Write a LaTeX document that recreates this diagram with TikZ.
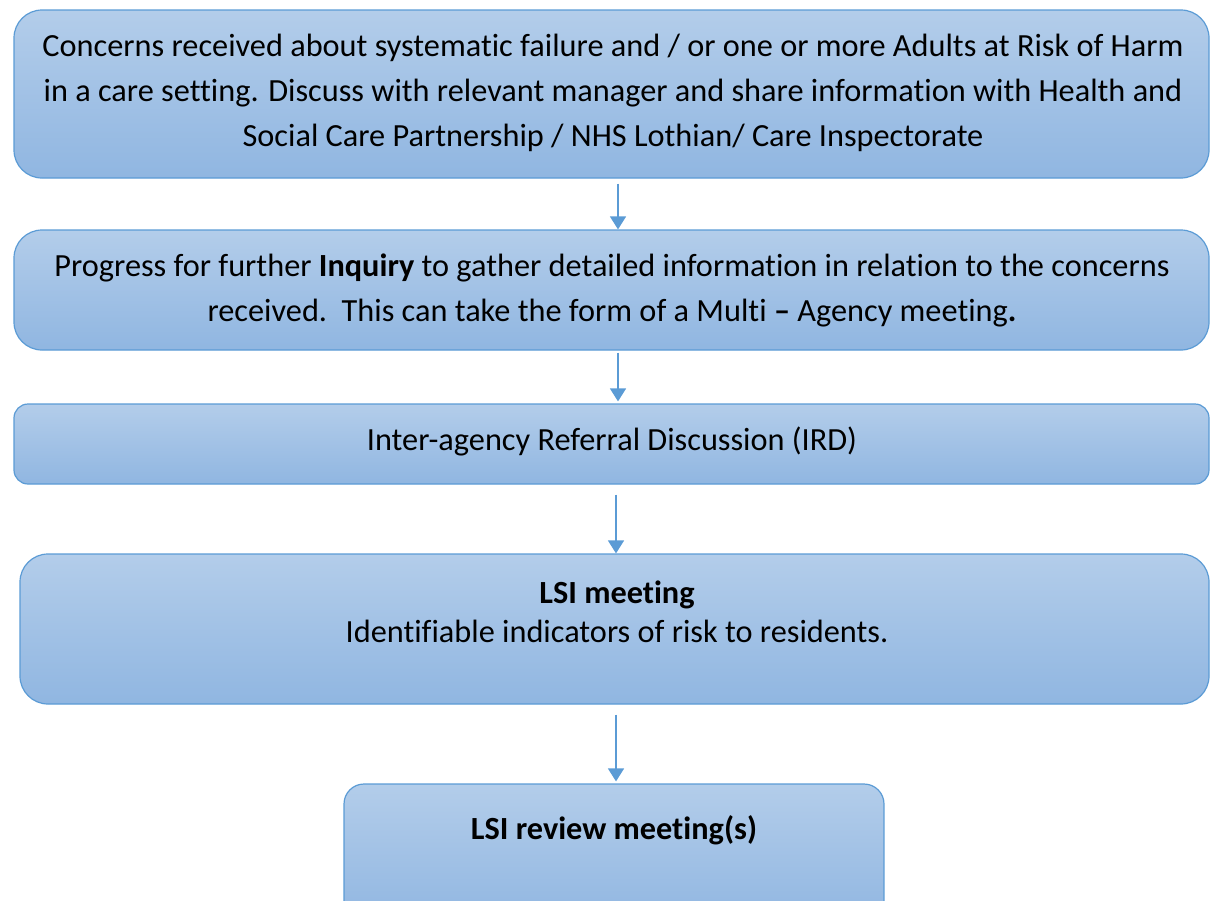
\documentclass[tikz,border=0pt]{standalone}
\usepackage{fontspec}
\setmainfont[Ligatures=NoCommon]{Carlito}
\usetikzlibrary{arrows.meta}

\definecolor{boxtop}{HTML}{B3CDEA}
\definecolor{boxbot}{HTML}{90B6E1}
\definecolor{boxline}{HTML}{5B9BD5}

\begin{document}
\begin{tikzpicture}[x=1pt,y=-1pt,
    stage/.style={draw=boxline, line width=1.2pt, top color=boxtop, bottom color=boxbot,
      inner sep=0pt, rounded corners=#1},
    stage/.default=28pt,
    words/.style={align=center, inner sep=0pt, font=\fontsize{32.3}{45}\selectfont},
    flow/.style={draw=boxline, line width=1.5pt, -{Triangle[width=16pt,length=13pt]}}]
    \useasboundingbox (0,0) rectangle (1210,900);
    \clip (0,0) rectangle (1210,900);

    % boxes
    \node[stage, minimum width=1195pt, minimum height=168pt] (concerns) at (611.5,94) {};
    \node[stage, minimum width=1195pt, minimum height=120pt] (inquiry) at (611.5,290) {};
    \node[stage=14pt, minimum width=1195pt, minimum height=80pt] (ird) at (611.5,444) {};
    \node[stage, minimum width=1189pt, minimum height=150pt] (lsi) at (614.5,629) {};
    \node[stage=20pt, minimum width=540pt, minimum height=140pt] (review) at (614,854) {};

    % texts
    \node[words] (concernstxt) at (613,93) {Concerns received about systematic failure and / or one or more Adults at Risk of Harm\\
      in a care setting. Discuss with relevant manager and share information with Health and\\
      Social Care Partnership / NHS Lothian/ Care Inspectorate};
    \node[words] (inquirytxt) at (612,290) {Progress for further \textbf{Inquiry} to gather detailed information in relation to the concerns\\
      received.\ \ This can take the form of a Multi \textbf{--} Agency meeting\textbf{.}};
    \node[words] (irdtxt) at (612,441) {Inter-agency Referral Discussion (IRD)};
    \node[words] (lsitxt) at (617,612) {\textbf{LSI meeting}\\[-6pt]Identifiable indicators of risk to residents.};
    \node[words] (reviewtxt) at (614,830) {\textbf{LSI review meeting(s)}};

    % arrows
    \draw[flow, shorten <=5pt] ([xshift=6.5pt]concerns.south) -- ([xshift=6.5pt]concerns.south |- inquiry.north);
    \draw[flow, shorten <=2pt, shorten >=2pt] ([xshift=6.5pt]inquiry.south) -- ([xshift=6.5pt]inquiry.south |- ird.north);
    \draw[flow, shorten <=10pt] ([xshift=4.5pt]ird.south) -- ([xshift=4.5pt]ird.south |- lsi.north);
    \draw[flow, shorten <=10pt, shorten >=2pt] ([xshift=1.5pt]lsi.south) -- ([xshift=1.5pt]lsi.south |- review.north);
\end{tikzpicture}
\end{document}
